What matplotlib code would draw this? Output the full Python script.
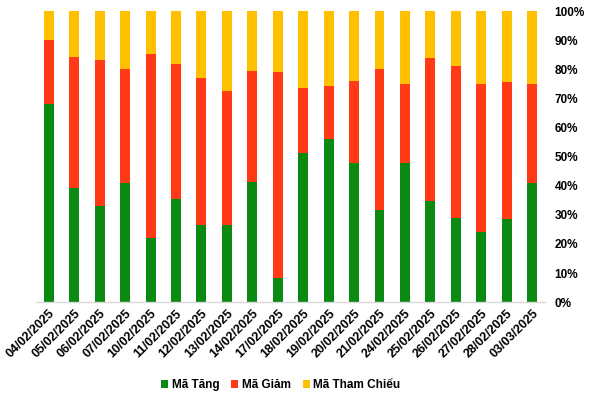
import matplotlib
matplotlib.use("Agg")
import matplotlib.pyplot as plt
import numpy as np

# dữ liệu (%)
dates = ["04/02/2025", "05/02/2025", "06/02/2025", "07/02/2025", "10/02/2025",
         "11/02/2025", "12/02/2025", "13/02/2025", "14/02/2025", "17/02/2025",
         "18/02/2025", "19/02/2025", "20/02/2025", "21/02/2025", "24/02/2025",
         "25/02/2025", "26/02/2025", "27/02/2025", "28/02/2025", "03/03/2025"]
ma_tang = [68.1, 39.3, 33.1, 41.0, 22.1, 35.4, 26.5, 26.5, 41.3, 8.4,
           51.2, 56.0, 47.8, 31.7, 47.8, 34.7, 29.0, 24.2, 28.5, 40.9]
ma_giam = [21.9, 44.9, 50.1, 39.1, 63.1, 46.4, 50.5, 46.0, 38.1, 70.6,
           22.3, 18.2, 28.1, 48.4, 27.1, 49.1, 52.1, 50.7, 47.1, 34.0]
ma_tham_chieu = [100 - a - b for a, b in zip(ma_tang, ma_giam)]

plt.rcParams['font.family'] = ['Liberation Sans', 'DejaVu Sans']

fig = plt.figure(figsize=(5.91, 3.95), dpi=100)
ax = fig.add_axes([0.061, 0.235, 0.861, 0.737])

x = np.arange(len(dates))
w = 0.39
ax.bar(x, ma_tang, w, color="#0B8A12", label="Mã Tăng")
ax.bar(x, ma_giam, w, bottom=ma_tang, color="#FF3A14", label="Mã Giảm")
ax.bar(x, ma_tham_chieu, w, bottom=np.array(ma_tang) + np.array(ma_giam),
       color="#FFC000", label="Mã Tham Chiếu")

ax.set_xlim(-0.5, len(dates) - 0.5)
ax.set_ylim(0, 100)
ax.yaxis.tick_right()
ax.set_yticks(range(0, 101, 10))
ax.set_yticklabels([f"{v}%" for v in range(0, 101, 10)], fontsize=8.5, fontweight="bold")
ax.set_xticks(x)
ax.set_xticklabels(dates, rotation=45, ha="right", rotation_mode="anchor",
                   fontsize=9, fontweight="bold")
ax.tick_params(axis="x", length=0, pad=4)
ax.tick_params(axis="y", length=0, pad=7)
for s in ["top", "left", "right"]:
    ax.spines[s].set_visible(False)
ax.spines["bottom"].set_color("#D9D9D9")
ax.spines["bottom"].set_linewidth(1)

leg = fig.legend(loc="center", bbox_to_anchor=(0.475, 0.025), ncol=3, frameon=False,
                 handlelength=0.6, handleheight=0.6, handletextpad=0.3,
                 columnspacing=1.0, prop={"size": 8.5, "weight": "bold"})

fig.savefig("out.png", dpi=100)
